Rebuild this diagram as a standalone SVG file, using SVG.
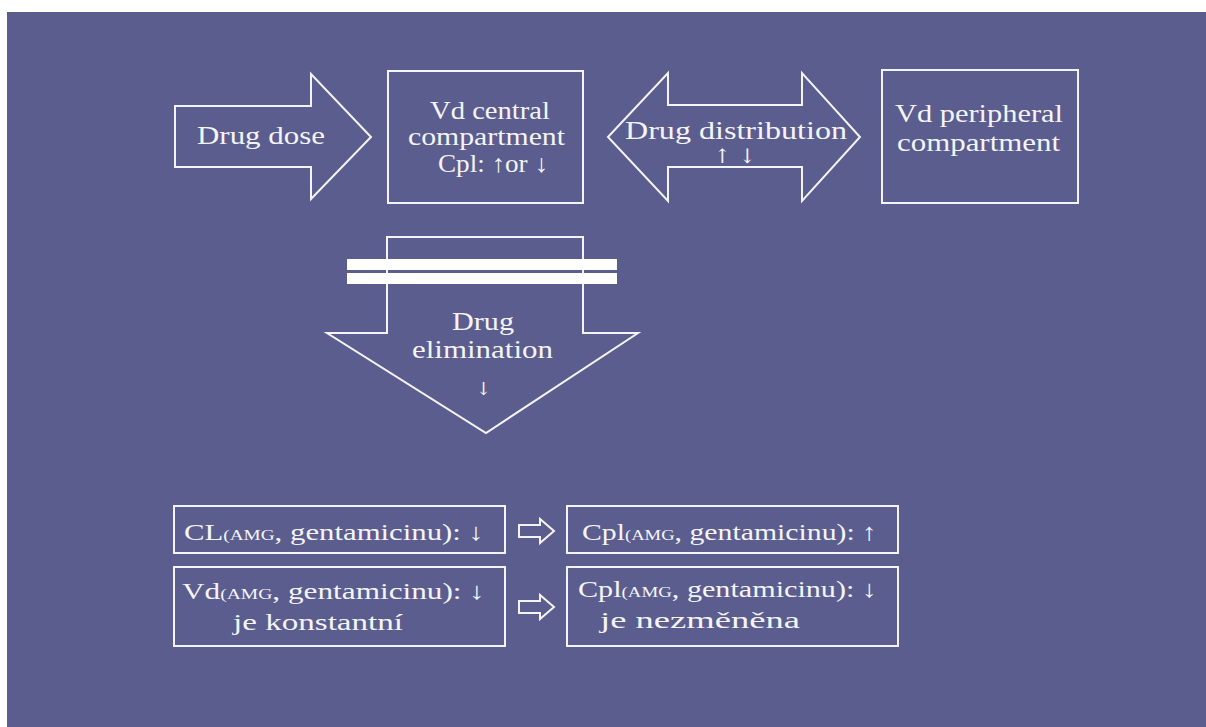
<svg xmlns="http://www.w3.org/2000/svg" width="1206" height="727" viewBox="0 0 1206 727">
<style>
.shape{fill:none;stroke:#f4f4f8;stroke-width:2}
.t{font-family:'Liberation Serif','Times New Roman','DejaVu Serif','Noto Serif',serif;fill:#f4f4f8;font-size:25px}
.b{font-size:24px}
.s{font-size:15px}
.ar{font-family:'DejaVu Serif','Liberation Serif',serif;fill:#f4f4f8}
.bar{fill:#ffffff}
</style>
<rect x="0" y="0" width="1206" height="727" fill="#ffffff"/>
<rect x="7" y="12" width="1199" height="715" fill="#5a5d8e"/>
<g id="drug-dose">
<polygon class="shape" points="175,106 311,106 311,74 371,137 311,199 311,167 175,167"/>
<text class="t" x="197" y="144" textLength="128" lengthAdjust="spacingAndGlyphs">Drug dose</text>
</g>
<g id="central">
<rect class="shape" x="388" y="71" width="195" height="132"/>
<text class="t" x="430" y="119" textLength="120" lengthAdjust="spacingAndGlyphs">Vd central</text>
<text class="t" x="408" y="145" textLength="157" lengthAdjust="spacingAndGlyphs">compartment</text>
<text class="t" x="438" y="172" textLength="110" lengthAdjust="spacingAndGlyphs">Cpl: ↑or ↓</text>
</g>
<g id="distribution">
<polygon class="shape" points="608,137 668,73 668,105 802,105 802,73 860,137 802,201 802,167 668,167 668,201"/>
<text class="t" x="625" y="139" textLength="222" lengthAdjust="spacingAndGlyphs">Drug distribution</text>
<text class="ar" x="714" y="163" style="font-size:20px">↑</text>
<text class="ar" x="739" y="163" style="font-size:20px">↓</text>
</g>
<g id="peripheral">
<rect class="shape" x="882" y="70" width="196" height="133"/>
<text class="t" x="895" y="122" textLength="168" lengthAdjust="spacingAndGlyphs">Vd peripheral</text>
<text class="t" x="897" y="151" textLength="163" lengthAdjust="spacingAndGlyphs">compartment</text>
</g>
<g id="elimination">
<polygon class="shape" points="387,237 583,237 583,333 638,333 486,433 327,333 387,333"/>
<rect class="bar" x="347" y="259" width="270" height="11"/>
<rect class="bar" x="347" y="273" width="270" height="11"/>
<text class="t" x="452" y="330" textLength="62" lengthAdjust="spacingAndGlyphs">Drug</text>
<text class="t" x="412" y="358" textLength="141" lengthAdjust="spacingAndGlyphs">elimination</text>
<text class="ar" x="476" y="395" style="font-size:18px">↓</text>
</g>
<g id="cl-box">
<rect class="shape" x="174" y="506" width="331" height="47"/>
<text class="t b" x="184" y="540" textLength="300" lengthAdjust="spacingAndGlyphs">CL<tspan class="s">(AMG</tspan>, gentamicinu): ↓</text>
</g>
<g id="vd-box">
<rect class="shape" x="174" y="567" width="331" height="79"/>
<text class="t b" x="182" y="599" textLength="303" lengthAdjust="spacingAndGlyphs">Vd<tspan class="s">(AMG</tspan>, gentamicinu): ↓</text>
<text class="t b" x="233" y="630" textLength="170" lengthAdjust="spacingAndGlyphs">je konstantní</text>
</g>
<g id="cpl-up-box">
<rect class="shape" x="567" y="506" width="331" height="47"/>
<text class="t b" x="582" y="540" textLength="295" lengthAdjust="spacingAndGlyphs">Cpl<tspan class="s">(AMG</tspan>, gentamicinu): ↑</text>
</g>
<g id="cpl-down-box">
<rect class="shape" x="567" y="567" width="331" height="79"/>
<text class="t b" x="578" y="597" textLength="299" lengthAdjust="spacingAndGlyphs">Cpl<tspan class="s">(AMG</tspan>, gentamicinu): ↓</text>
<text class="t b" x="600" y="628" textLength="200" lengthAdjust="spacingAndGlyphs">je nezměněna</text>
</g>
<g id="connectors">
<polygon class="shape" points="519,525 540,525 540,519 554,531 540,543 540,537 519,537"/>
<polygon class="shape" points="519,601 540,601 540,595 554,607 540,619 540,613 519,613"/>
</g>
</svg>
